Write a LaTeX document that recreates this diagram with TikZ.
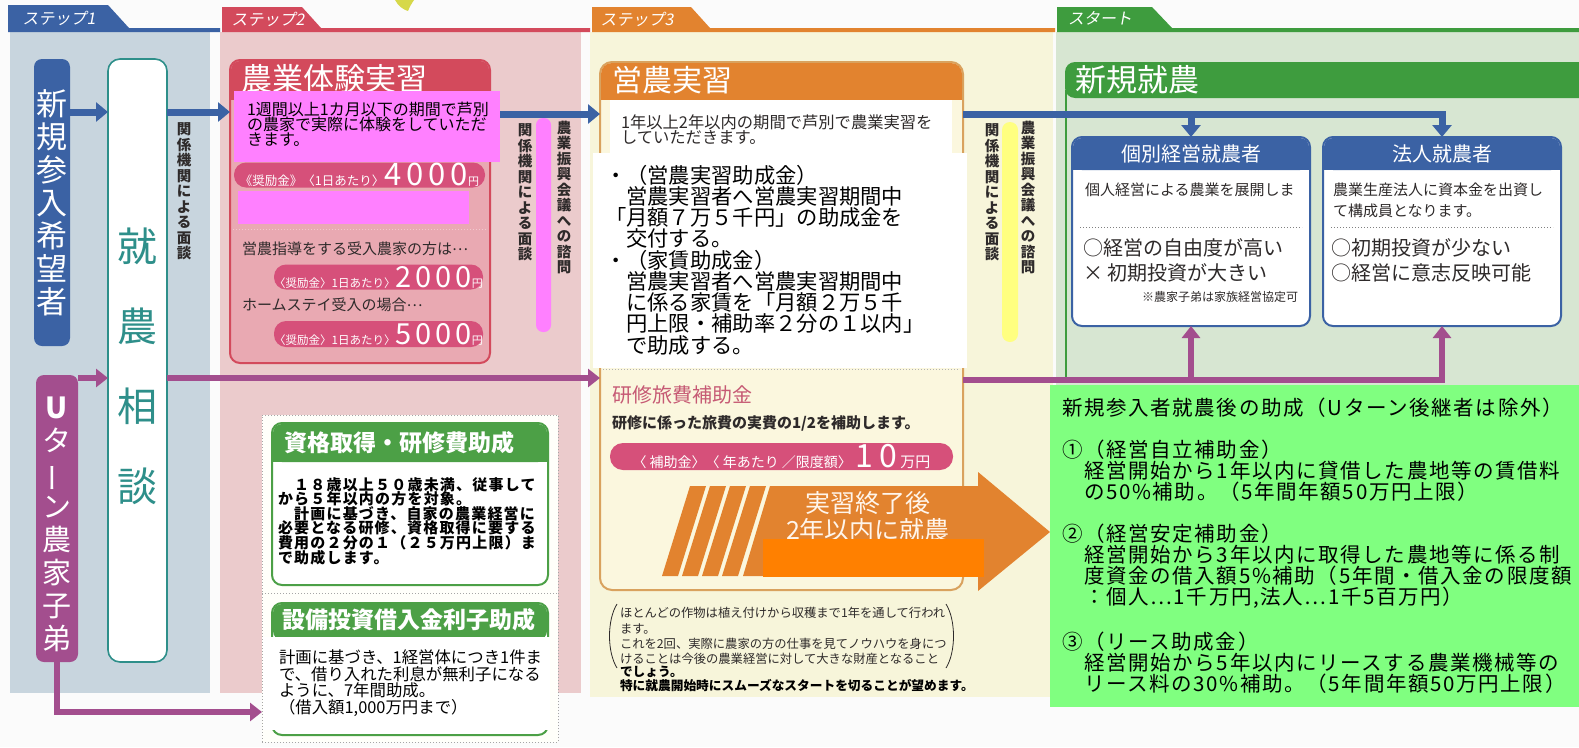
\documentclass[tikz,border=0pt]{standalone}
\usepackage{graphicx}
\usepackage{fontspec}
\setmainfont{Noto Sans CJK JP}
\newfontfamily\gspb[LetterSpace=8]{Noto Sans CJK JP}
\newfontfamily\gslant[FakeSlant=0.18]{Noto Sans CJK JP}
\newcommand{\jell}{\raisebox{0.28em}[0.5em][0pt]{…}}
\usetikzlibrary{arrows.meta}
\definecolor{blueD}{HTML}{3B62A4}
\definecolor{panA}{HTML}{C8D5DE}
\definecolor{panB}{HTML}{EBCBCC}
\definecolor{panC}{HTML}{F7F5DA}
\definecolor{panD}{HTML}{D7E6D2}
\definecolor{redB}{HTML}{D34A5C}
\definecolor{pinkBody}{HTML}{E9A9B2}
\definecolor{pillC}{HTML}{D6507A}
\definecolor{oraC}{HTML}{E2832F}
\definecolor{oraBorder}{HTML}{D9A25E}
\definecolor{bodyC}{HTML}{FBF7DE}
\definecolor{grnD}{HTML}{3E9C3E}
\definecolor{grnA}{HTML}{4CA046}
\definecolor{purp}{HTML}{A34E8E}
\definecolor{cTeal}{HTML}{2E8F8A}
\definecolor{mag}{HTML}{FF80FF}
\definecolor{yel}{HTML}{FFFF80}
\definecolor{oraR}{HTML}{FF8000}
\definecolor{grnBox}{HTML}{80FF80}
\definecolor{txtD}{HTML}{2E2A2A}
\definecolor{roseT}{HTML}{C65A74}
\definecolor{leafC}{HTML}{D6D84A}
\newcommand{\myfs}[2]{\fontsize{#1}{#2}\selectfont\lineskiplimit=-50pt\lineskip=0pt\relax}
\begin{document}
\begin{tikzpicture}[x=1pt,y=-1pt,
  every node/.style={inner sep=0pt,outer sep=0pt},
  bline/.style={line width=7pt,blueD},
  barrow/.style={bline,-{Triangle[length=12pt,width=19pt]}},
  pline/.style={line width=6.5pt,purp},
  parrow/.style={pline,-{Triangle[length=12pt,width=18pt]}},
  vlabel/.style={anchor=north,align=center,text=txtD,font=\bfseries\myfs{14.5}{15.5}},
  tabtext/.style={text=white,font=\gslant\myfs{16}{16}},
  pill/.style={fill=pillC,rounded corners=12pt,text=white},
  wline/.style={anchor=west,align=left,text=txtD},
  gline/.style={anchor=west,align=left,text=black,font=\gspb\myfs{20.5}{21.1}}]
\useasboundingbox (0,0) rectangle (1579,747);
\fill[white!97!gray] (0,0) rectangle (1579,747);
\fill[leafC] (395,0) .. controls (398,6) and (404,10) .. (408,11) .. controls (410,6) and (412,3) .. (414,0) -- cycle;
% panels
\fill[panA] (10,32) rectangle (210,693);
\fill[panB] (220,32) rectangle (581,693);
\fill[panC] (590,32) rectangle (1053,697);
\fill[panD] (1056,32) rectangle (1579,702);
% tabs
\fill[blueD] (8,5) -- (108,5) -- (129,28) -- (220,28) -- (220,32) -- (8,32) -- cycle;
\fill[redB] (222,7) -- (302,7) -- (321,28) -- (590,28) -- (590,32) -- (222,32) -- cycle;
\fill[oraC] (592,7) -- (691,7) -- (710,28) -- (1055,28) -- (1055,32) -- (592,32) -- cycle;
\fill[grnD] (1057,7) -- (1152,7) -- (1172,28) -- (1579,28) -- (1579,32) -- (1057,32) -- cycle;
\node[tabtext] (tab1) at (59,18) {ステップ1};
\node[tabtext] (tab2) at (268,19) {ステップ2};
\node[tabtext] (tab3) at (637,19) {ステップ3};
\node[tabtext] (tab4) at (1100,18) {スタート};
% step 1
\node[fill=blueD,rounded corners=8pt,minimum width=36pt,minimum height=287pt,text=white,align=center,font=\myfs{31}{33}] (n1) at (52,202.5) {新\\規\\参\\入\\希\\望\\者};
\node[fill=white,draw=cTeal,line width=1.6pt,rounded corners=12pt,minimum width=59pt,minimum height=603pt] (sd) at (137.5,360.5) {};
\node[text=cTeal,align=center,font=\myfs{40}{80}] (sdt) at (137.5,366) {就\\農\\相\\談};
\node[fill=purp,rounded corners=8pt,minimum width=42pt,minimum height=287pt] (ut) at (57,518.5) {};
\node[text=white,align=center,font=\myfs{29}{33}] (utt) at (57,524) {\textbf{U}\\タ\\\rotatebox[origin=c]{90}{ー}\\ン\\農\\家\\子\\弟};
\node[vlabel] (v1) at (184,123) {関\\係\\機\\関\\に\\よ\\る\\面\\談};
% step 2
\node[fill=pinkBody,draw=redB,line width=2pt,rounded corners=10pt,minimum width=260pt,minimum height=303pt] (b2) at (360,211.5) {};
\fill[redB,rounded corners=9pt] (231,61) rectangle (489,100);
\fill[redB] (231,88) rectangle (489,100);
\node[anchor=west,text=white,font=\myfs{31}{31}] (b2t) at (241,79) {農業体験実習};
\node[pill,minimum width=251pt,minimum height=25pt] (p1) at (359.5,175) {{\myfs{12.5}{13}《奨励金》〈1日あたり〉}{\myfs{31}{31}4\hspace{5pt}0\hspace{5pt}0\hspace{5pt}0}{\myfs{11}{11}円}};
\draw[white!70!redB,dotted,line width=1pt] (233,229) -- (487,229);
\node[anchor=west,text=txtD,font=\myfs{15}{15}] (b2a) at (242,249) {営農指導をする受入農家の方は\jell};
\node[pill,minimum width=209pt,minimum height=25pt] (p2) at (378.5,277) {{\myfs{11.5}{12}〈奨励金〉1日あたり〉}{\myfs{29}{29}2\hspace{4pt}0\hspace{4pt}0\hspace{4pt}0}{\myfs{11}{11}円}};
\node[anchor=west,text=txtD,font=\myfs{15}{15}] (b2b) at (242,305) {ホームステイ受入の場合\jell};
\node[pill,minimum width=209pt,minimum height=26pt] (p3) at (378.5,334) {{\myfs{11.5}{12}〈奨励金〉1日あたり〉}{\myfs{29}{29}5\hspace{4pt}0\hspace{4pt}0\hspace{4pt}0}{\myfs{11}{11}円}};
\node[vlabel] (v2) at (525,124) {関\\係\\機\\関\\に\\よ\\る\\面\\談};
\node[vlabel] (v3) at (564,121) {農\\業\\振\\興\\会\\議\\へ\\の\\諮\\問};
% step 2 lower
\node[fill=white!98!yellow,draw=gray!70,dotted,line width=1pt,minimum width=296pt,minimum height=327pt] (sd0) at (410,578.5) {};
\node[fill=white,draw=grnA,line width=2pt,rounded corners=10pt,minimum width=276pt,minimum height=162pt] (sA) at (410,504) {};
\fill[grnA,rounded corners=9pt] (273,424) rectangle (547,462);
\fill[grnA] (273,450) rectangle (547,462);
\node[text=white,font=\bfseries\myfs{23}{23}] (sAt) at (399,443) {資格取得・研修費助成};
\node[wline,text=black,font=\gspb\bfseries\myfs{15}{14.6}] (sAb) at (278,521) {　１８歳以上５０歳未満、従事して\\から５年以内の方を対象。\\　計画に基づき、自家の農業経営に\\必要となる研修、資格取得に要する\\費用の２分の１（２５万円上限）ま\\で助成します。};
\draw[gray!70,dotted,line width=1pt] (262,593) -- (558,593);
\node[fill=white,draw=grnA,line width=2pt,rounded corners=10pt,minimum width=276pt,minimum height=132pt] (sB) at (410,669) {};
\fill[grnA,rounded corners=9pt] (273,604) rectangle (547,640);
\node[text=white,font=\bfseries\myfs{23}{23}] (sBt) at (409,620) {設備投資借入金利子助成};
\fill[white] (263,637) rectangle (550,730);
\node[wline,font=\myfs{16.4}{16.7},text=black] (sBb) at (279,683) {計画に基づき、1経営体につき1件ま\\で、借り入れた利息が無利子になる\\ように、7年間助成。\\（借入額1,000万円まで）};
% step 3
\node[fill=bodyC,draw=oraBorder,line width=2pt,rounded corners=12pt,minimum width=363pt,minimum height=528pt] (b3) at (781.5,326) {};
\fill[oraC,rounded corners=11pt] (601,63) rectangle (962,100);
\fill[oraC] (601,90) rectangle (962,100);
\node[anchor=west,text=white,font=\myfs{30}{30}] (b3t) at (612,80) {営農実習};
\fill[white] (610,100) rectangle (952,153);
\node[wline,font=\myfs{16.3}{15}] (b3a) at (621,129.5) {1年以上2年以内の期間で芦別で農業実習を\\していただきます。};
\fill[white] (593,153) rectangle (967,368);
\node[wline,font=\myfs{21.3}{21.25},text=black] (b3b) at (605,260) {・（営農実習助成金）\\　営農実習者へ営農実習期間中\\「月額７万５千円」の助成金を\\　交付する。\\・（家賃助成金）\\　営農実習者へ営農実習期間中\\　に係る家賃を「月額２万５千\\　円上限・補助率２分の１以内」\\　で助成する。};
\draw[gray!60,dotted,line width=1pt] (603,369) -- (960,369);
\node[anchor=west,text=roseT,font=\myfs{20}{20}] (b3c) at (612,395) {研修旅費補助金};
\node[anchor=west,text=txtD,font=\bfseries\myfs{15}{15}] (b3d) at (612,423) {研修に係った旅費の実費の1/2を補助します。};
\node[pill,minimum width=343pt,minimum height=27pt,rounded corners=13pt] (p4) at (781.5,456.5) {{\myfs{14}{14}〈 補助金〉〈 年あたり ／限度額〉}\hspace{4pt}{\myfs{32}{32}1\hspace{6pt}0}\hspace{3pt}{\myfs{15}{15}万円}};
% big arrow
\fill[oraC] (770,486) -- (978,486) -- (978,472) -- (1050,532) -- (978,591) -- (978,576) -- (743,576) -- cycle;
\foreach \i in {0,1,2,3} {
  \fill[oraC] ({662+20*\i},576) -- ({678+20*\i},576) -- ({706+20*\i},486) -- ({690+20*\i},486) -- cycle;
}
\node[text=white!92!orange,font=\myfs{25}{25}] (ar1) at (868,503) {実習終了後};
\node[text=white!92!orange,font=\myfs{25}{25}] (ar2) at (868,530) {2年以内に就農};
\fill[oraR] (763,539) rectangle (984,577);
\node[wline,font=\myfs{12.3}{15.3}] (b3e) at (620,636) {ほとんどの作物は植え付けから収穫まで1年を通して行われ\\ます。\\これを2回、実際に農家の方の仕事を見てノウハウを身につ\\けることは今後の農業経営に対して大きな財産となること};
\draw[txtD,line width=0.8pt] (617,604) .. controls (607,620) and (607,652) .. (617,668);
\draw[txtD,line width=0.8pt] (946,604) .. controls (956,620) and (956,652) .. (946,668);
\node[anchor=west,text=black,font=\bfseries\myfs{12.7}{12.7}] (b3f) at (620,672) {でしょう。};
\node[anchor=west,text=black,font=\bfseries\myfs{12.7}{12.7}] (b3g) at (620,686) {特に就農開始時にスムーズなスタートを切ることが望めます。};
\node[vlabel] (v4) at (992,124) {関\\係\\機\\関\\に\\よ\\る\\面\\談};
\node[vlabel] (v5) at (1028,121) {農\\業\\振\\興\\会\\議\\へ\\の\\諮\\問};
% start
\fill[grnD,rounded corners=10pt] (1065,62) rectangle (1600,98);
\draw[grnD,line width=2pt] (1066,90) -- (1066,380);
\node[anchor=west,text=white,font=\myfs{31}{31}] (st) at (1075,80) {新規就農};
\node[fill=white,draw=blueD,line width=2pt,rounded corners=10pt,minimum width=238pt,minimum height=189pt] (k1) at (1191,231.5) {};
\fill[blueD,rounded corners=9pt] (1073,138) rectangle (1309,170);
\fill[blueD] (1073,160) rectangle (1309,170);
\node[text=white,font=\myfs{20}{20}] (k1t) at (1191,154) {個別経営就農者};
\node[anchor=west,text=txtD,font=\myfs{15}{15}] (k1a) at (1085,190) {個人経営による農業を展開しま};
\draw[gray,dotted,line width=1pt] (1080,227) -- (1302,227);
\node[wline,font=\myfs{20}{25}] (k1b) at (1083,260.5) {○経営の自由度が高い\\× 初期投資が大きい};
\node[anchor=east,text=txtD,font=\myfs{12}{12}] (k1c) at (1298,297) {※農家子弟は家族経営協定可};
\node[fill=white,draw=blueD,line width=2pt,rounded corners=10pt,minimum width=238pt,minimum height=189pt] (k2) at (1442,231.5) {};
\fill[blueD,rounded corners=9pt] (1324,138) rectangle (1560,170);
\fill[blueD] (1324,160) rectangle (1560,170);
\node[text=white,font=\myfs{20}{20}] (k2t) at (1442,154) {法人就農者};
\node[wline,font=\myfs{15}{21}] (k2a) at (1333,200.5) {農業生産法人に資本金を出資し\\て構成員となります。};
\draw[gray,dotted,line width=1pt] (1331,227) -- (1553,227);
\node[wline,font=\myfs{20}{25}] (k2b) at (1331,260.5) {○初期投資が少ない\\○経営に意志反映可能};
% connectors
\coordinate (yA) at (0,112);
\coordinate (yB) at (0,114);
\coordinate (yP) at (0,378);
\coordinate (yP2) at (0,380);
\coordinate (yQ) at (0,712);
\draw[barrow] (n1.east |- yA) -- (sd.west |- yA);
\draw[barrow] (sd.east |- yA) -- (b2.west |- yA);
\draw[barrow] (b2.east |- yB) -- (b3.west |- yB);
\draw[barrow] (b3.east |- yB) -- (k2.north |- yB) -- (k2.north);
\draw[barrow] (k1.north |- yB) -- (k1.north);
\draw[parrow] (ut.east |- yP) -- (sd.west |- yP);
\draw[parrow] (sd.east |- yP) -- (b3.west |- yP);
\draw[parrow] (b3.east |- yP2) -- (k2.south |- yP2) -- (k2.south);
\draw[parrow] (k1.south |- yP2) -- (k1.south);
\draw[parrow] (ut.south) -- (ut.south |- yQ) -- (sd0.west |- yQ);
% green box
\fill[grnBox] (1050,385) rectangle (1579,707);
\begin{scope}
\clip (1050,385) rectangle (1579,707);
\node[gline] (g0) at (1062,408) {新規参入者就農後の助成（Uターン後継者は除外）};
\node[gline] (g1) at (1062,471) {①（経営自立補助金）\\　経営開始から1年以内に貸借した農地等の賃借料\\　の50\%補助。（5年間年額50万円上限）};
\node[gline] (g2) at (1062,566.5) {②（経営安定補助金）\\　経営開始から3年以内に取得した農地等に係る制\\　度資金の借入額5\%補助（5年間・借入金の限度額\\　：個人…1千万円,法人…1千5百万円）};
\node[gline] (g3) at (1062,663) {③（リース助成金）\\　経営開始から5年以内にリースする農業機械等の\\　リース料の30\%補助。（5年間年額50万円上限）};
\end{scope}
% overlays
\fill[mag] (234,91) rectangle (500,162);
\node[wline,text=black,font=\myfs{16}{15}] (m1) at (247,124) {1週間以上1カ月以下の期間で芦別\\の農家で実際に体験をしていただ\\きます。};
\fill[mag] (238,191) rectangle (469,224);
\fill[mag,rounded corners=7pt] (536,118) rectangle (551,332);
\fill[yel,rounded corners=8pt] (1002,122) rectangle (1018,342);
\end{tikzpicture}
\end{document}
